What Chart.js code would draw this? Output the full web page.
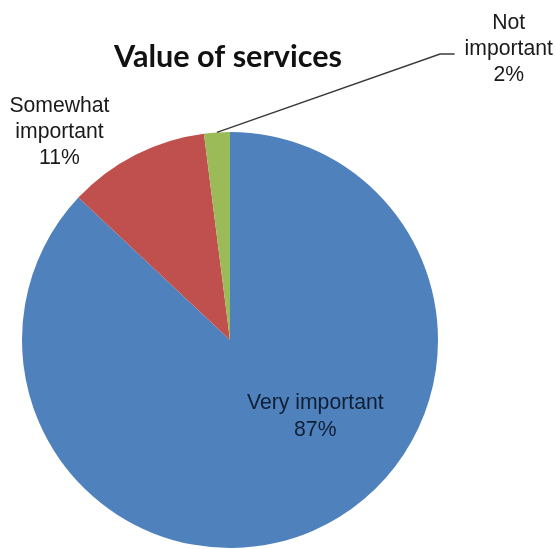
<!DOCTYPE html>
<html>
<head>
<meta charset="utf-8">
<script src="https://cdn.jsdelivr.net/npm/chart.js@4.4.1/dist/chart.umd.min.js"></script>
<style>
  html, body { margin: 0; padding: 0; background: #fff; }
  canvas { display: block; }
</style>
</head>
<body>
<canvas id="grafico" width="555" height="549"></canvas>
<script>
// datos del grafico
const categorias = ["Very important", "Somewhat important", "Not important"];
const porcentajes = [87, 11, 2];
const colores = ["#4F81BD", "#C0504D", "#9BBB59"];
const titulo = "Value of services";

// texto de las etiquetas, una linea por elemento
const etiquetas = [
  ["Very important", "87%"],
  ["Somewhat", "important", "11%"],
  ["Not", "important", "2%"]
];

const fuenteEt = 'Arial, "Liberation Sans", sans-serif';

// ajusta el tamaño de letra para que el texto tenga el ancho buscado
function ajustarFuente(ctx, texto, familia, peso, ancho) {
  ctx.font = peso + " 20px " + familia;
  let w = ctx.measureText(texto).width;
  return Math.round(20 * ancho / w * 10) / 10;
}

const pluginTextos = {
  id: "textos",
  afterDraw(chart) {
    const ctx = chart.ctx;
    const arcos = chart.getDatasetMeta(0).data;
    const cx = arcos[0].x, cy = arcos[0].y, r = arcos[0].outerRadius;

    ctx.save();
    // titulo
    let tam = ajustarFuente(ctx, titulo, "Lato", "bold", 228);
    ctx.font = "bold " + tam + "px Lato";
    ctx.fillStyle = "#111";
    ctx.textAlign = "center";
    ctx.textBaseline = "middle";
    ctx.fillText(titulo, cx - 2, cy - 1.36 * r);

    // etiquetas
    let tamEt = ajustarFuente(ctx, "Very important", fuenteEt, "normal", 137);
    ctx.font = "normal " + tamEt + "px " + fuenteEt;
    const pos = [
      [cx + 0.41 * r, cy + 0.37 * r, 27, "#0f1f35"],
      [cx - 0.82 * r, cy - 1.0 * r, 26, "#1a1a1a"],
      [cx + 1.34 * r, cy - 1.40 * r, 26, "#1a1a1a"]
    ];
    etiquetas.forEach((lineas, i) => {
      const [x, y, alto, color] = pos[i];
      ctx.fillStyle = color;
      const y0 = y - (lineas.length - 1) * alto / 2;
      lineas.forEach((l, j) => ctx.fillText(l, x, y0 + j * alto));
    });

    // linea guia de "Not important"
    const verde = arcos[2];
    const ang = (verde.startAngle + verde.endAngle) / 2;
    ctx.strokeStyle = "#3a3a3a";
    ctx.lineWidth = 1.5;
    ctx.beginPath();
    ctx.moveTo(cx + r * Math.cos(ang), cy + r * Math.sin(ang));
    ctx.lineTo(cx + 1.01 * r, cy - 1.375 * r);
    ctx.lineTo(cx + 1.08 * r, cy - 1.375 * r);
    ctx.stroke();
    ctx.restore();
  }
};

const ctx = document.querySelector("#grafico").getContext("2d");
const grafico = new Chart(ctx, {
  type: "pie",
  data: {
    labels: categorias,
    datasets: [{
      data: porcentajes,
      backgroundColor: colores,
      borderWidth: 0
    }]
  },
  options: {
    responsive: false,
    animation: false,
    devicePixelRatio: 1,
    layout: { padding: { top: 132, bottom: 1, left: 22, right: 117 } },
    plugins: {
      legend: { display: false },
      tooltip: { enabled: false },
      title: { display: false }
    }
  },
  plugins: [pluginTextos]
});
</script>
</body>
</html>
